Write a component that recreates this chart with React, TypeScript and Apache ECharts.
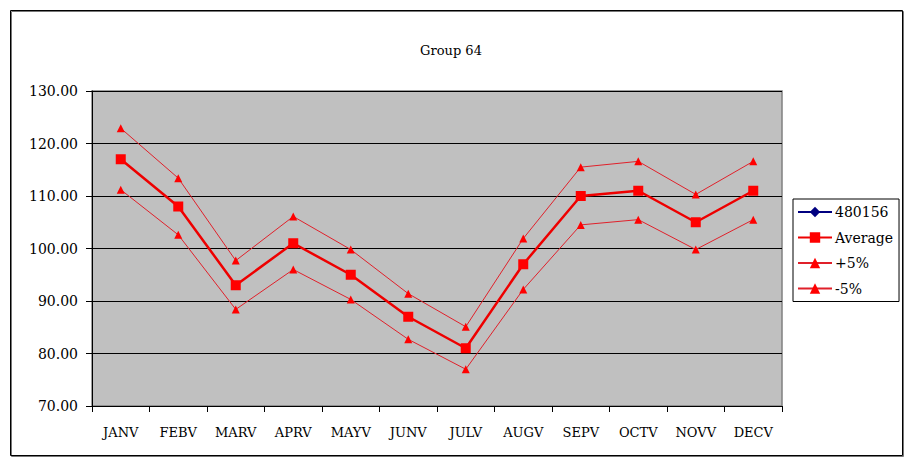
import React, { useEffect, useRef } from "react";
import * as echarts from "echarts";

const title = "Group 64";
const months = ["JANV", "FEBV", "MARV", "APRV", "MAYV", "JUNV", "JULV", "AUGV", "SEPV", "OCTV", "NOVV", "DECV"];
const seriesNames = ["480156", "Average", "+5%", "-5%"];
const values480156: number[] = [];
const averageValues = [117, 108, 93, 101, 95, 87, 81, 97, 110, 111, 105, 111];
const plusFiveValues = [122.9, 113.4, 97.7, 106.1, 99.8, 91.4, 85.1, 101.9, 115.5, 116.6, 110.3, 116.6];
const minusFiveValues = [111.2, 102.6, 88.4, 96.0, 90.3, 82.7, 77.0, 92.2, 104.5, 105.5, 99.8, 105.5];
const yMin = 70;
const yMax = 130;
const yStep = 10;

const FONT = "DejaVu Serif, serif";

export default function App() {
  const ref = useRef<HTMLDivElement>(null);
  useEffect(() => {
    if (!ref.current) return;
    const chart = echarts.init(ref.current, undefined, { renderer: "svg" });
    chart.setOption({
      animation: false,
      backgroundColor: "#ffffff",
      textStyle: { fontFamily: FONT },
      title: {
        text: title,
        left: 446,
        textAlign: "center",
        top: 39,
        textStyle: { fontFamily: FONT, fontSize: 13, fontWeight: "normal", color: "#000" },
      },
      graphic: [
        {
          type: "rect",
          shape: { x: 10.5, y: 10.5, width: 892, height: 445 },
          style: { fill: "none", stroke: "#000", lineWidth: 1, shadowColor: "#777", shadowOffsetX: 1, shadowOffsetY: 1, shadowBlur: 0 },
          silent: true,
        },
      ],
      legend: {
        orient: "vertical",
        left: 793,
        top: 199,
        data: seriesNames,
        borderColor: "#000",
        borderWidth: 1,
        padding: [6, 6, 6, 4],
        itemGap: 11.5,
        itemWidth: 34,
        itemHeight: 13,
        textStyle: { fontFamily: FONT, fontSize: 14, color: "#000", padding: [0, 0, 0, -2] },
      },
      grid: {
        left: 92,
        right: 131,
        top: 91,
        bottom: 60,
        show: true,
        backgroundColor: "#c0c0c0",
        borderColor: "#808080",
        borderWidth: 1.5,
      },
      xAxis: {
        type: "category",
        data: months,
        boundaryGap: true,
        axisLine: { show: true, lineStyle: { color: "#000", width: 1 } },
        axisTick: { show: true, interval: 0, length: 6, lineStyle: { color: "#000" } },
        axisLabel: { interval: 0, margin: 20, fontFamily: FONT, fontSize: 13, color: "#000" },
        splitLine: { show: false },
      },
      yAxis: {
        type: "value",
        min: yMin,
        max: yMax,
        interval: yStep,
        axisLine: { show: true, lineStyle: { color: "#000", width: 1 } },
        axisTick: { show: true, length: 6, lineStyle: { color: "#000" } },
        axisLabel: {
          margin: 14,
          fontFamily: FONT,
          fontSize: 14,
          color: "#000",
          formatter: (v: number) => v.toFixed(2),
        },
        splitLine: { show: true, lineStyle: { color: "#000", width: 1 } },
      },
      series: [
        {
          name: seriesNames[0],
          type: "line",
          data: values480156,
          symbol: "diamond",
          symbolSize: 8,
          itemStyle: { color: "#000080" },
          lineStyle: { color: "#000080", width: 1 },
        },
        {
          name: seriesNames[1],
          type: "line",
          data: averageValues,
          symbol: "rect",
          symbolSize: 10,
          itemStyle: { color: "#ff0000" },
          lineStyle: { color: "#ee0000", width: 2.5 },
          z: 3,
        },
        {
          name: seriesNames[2],
          type: "line",
          data: plusFiveValues,
          symbol: "triangle",
          symbolSize: 8,
          itemStyle: { color: "#ff0000" },
          lineStyle: { color: "#e0202a", width: 1 },
        },
        {
          name: seriesNames[3],
          type: "line",
          data: minusFiveValues,
          symbol: "triangle",
          symbolSize: 8,
          itemStyle: { color: "#ff0000" },
          lineStyle: { color: "#e0202a", width: 1 },
        },
      ],
    });
    return () => chart.dispose();
  }, []);
  return <div ref={ref} style={{ position: "fixed", left: 0, top: 0, width: 913, height: 466 }} />;
}
